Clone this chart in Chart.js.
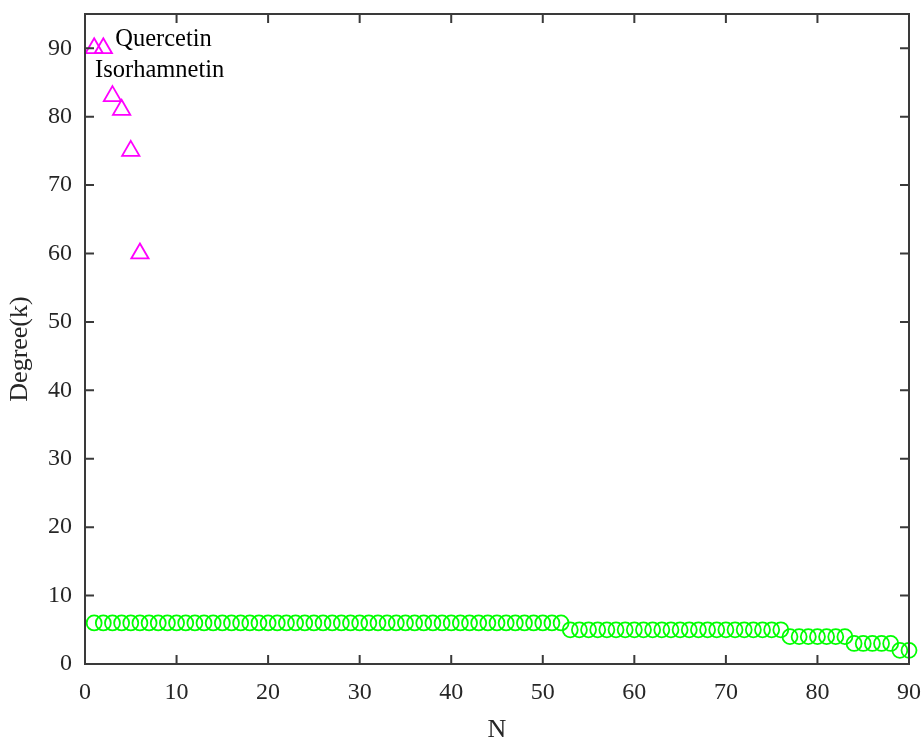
<!DOCTYPE html>
<html lang="en">
<head>
    <meta charset="UTF-8">
    <title>Degree distribution</title>
    <style>
        html, body { margin: 0; padding: 0; background: #ffffff; }
        #chart { display: block; }
    </style>
    <script src="https://cdn.jsdelivr.net/npm/chart.js"></script>
</head>
<body>
    <canvas id="chart" width="921" height="740"></canvas>

    <script>
        // hub compounds (magenta triangles)
        var hubN = [1, 2, 3, 4, 5, 6];
        var hubDegree = [90, 90, 83, 81, 75, 60];

        // remaining nodes (green circles), ranked by degree
        var nodeN = [
            1, 2, 3, 4, 5, 6, 7, 8, 9, 10,
            11, 12, 13, 14, 15, 16, 17, 18, 19, 20,
            21, 22, 23, 24, 25, 26, 27, 28, 29, 30,
            31, 32, 33, 34, 35, 36, 37, 38, 39, 40,
            41, 42, 43, 44, 45, 46, 47, 48, 49, 50,
            51, 52, 53, 54, 55, 56, 57, 58, 59, 60,
            61, 62, 63, 64, 65, 66, 67, 68, 69, 70,
            71, 72, 73, 74, 75, 76, 77, 78, 79, 80,
            81, 82, 83, 84, 85, 86, 87, 88, 89, 90
        ];
        var nodeDegree = [
            6, 6, 6, 6, 6, 6, 6, 6, 6, 6,
            6, 6, 6, 6, 6, 6, 6, 6, 6, 6,
            6, 6, 6, 6, 6, 6, 6, 6, 6, 6,
            6, 6, 6, 6, 6, 6, 6, 6, 6, 6,
            6, 6, 6, 6, 6, 6, 6, 6, 6, 6,
            6, 6, 5, 5, 5, 5, 5, 5, 5, 5,
            5, 5, 5, 5, 5, 5, 5, 5, 5, 5,
            5, 5, 5, 5, 5, 5, 4, 4, 4, 4,
            4, 4, 4, 3, 3, 3, 3, 3, 2, 2
        ];

        var xTicks = [0, 10, 20, 30, 40, 50, 60, 70, 80, 90];
        var yTicks = [0, 10, 20, 30, 40, 50, 60, 70, 80, 90];

        // text labels next to the top hubs
        var noteText = ['Quercetin', 'Isorhamnetin'];
        var noteN = [3.3, 1.1];
        var noteDegree = [91.2, 86.7];

        var xTitle = 'N';
        var yTitle = 'Degree(k)';

        var axisColor = '#262626';
        var serif = "'Liberation Serif', 'Times New Roman', serif";

        function points(xs, ys) {
            var out = [];
            for (var i = 0; i < xs.length; i++) {
                out.push({ x: xs[i], y: ys[i] });
            }
            return out;
        }

        // box around the plot with inward ticks on all four sides
        var matlabBox = {
            id: 'matlabBox',
            afterDraw: function (chart) {
                var ctx = chart.ctx;
                var a = chart.chartArea;
                var xs = chart.scales.x;
                var ys = chart.scales.y;
                var len = 9;
                ctx.save();
                ctx.strokeStyle = '#3a3a3a';
                ctx.lineWidth = 2;
                ctx.beginPath();
                xs.ticks.forEach(function (t) {
                    var px = xs.getPixelForValue(t.value);
                    ctx.moveTo(px, a.bottom);
                    ctx.lineTo(px, a.bottom - len);
                    ctx.moveTo(px, a.top);
                    ctx.lineTo(px, a.top + len);
                });
                ys.ticks.forEach(function (t) {
                    var py = ys.getPixelForValue(t.value);
                    ctx.moveTo(a.left, py);
                    ctx.lineTo(a.left + len, py);
                    ctx.moveTo(a.right, py);
                    ctx.lineTo(a.right - len, py);
                });
                ctx.stroke();
                ctx.strokeRect(a.left, a.top, a.right - a.left, a.bottom - a.top);

                // axis titles
                ctx.fillStyle = axisColor;
                ctx.font = '26px ' + serif;
                ctx.textAlign = 'center';
                ctx.textBaseline = 'middle';
                ctx.fillText(xTitle, (a.left + a.right) / 2, chart.height - 10);
                ctx.translate(20, (a.top + a.bottom) / 2 + 10);
                ctx.rotate(-Math.PI / 2);
                ctx.fillText(yTitle, 0, 0);
                ctx.restore();
            }
        };

        var noteLabels = {
            id: 'noteLabels',
            afterDatasetsDraw: function (chart) {
                var ctx = chart.ctx;
                ctx.save();
                ctx.fillStyle = '#000000';
                ctx.font = '24.5px ' + serif;
                ctx.textAlign = 'left';
                ctx.textBaseline = 'middle';
                for (var i = 0; i < noteText.length; i++) {
                    ctx.fillText(noteText[i],
                        chart.scales.x.getPixelForValue(noteN[i]),
                        chart.scales.y.getPixelForValue(noteDegree[i]));
                }
                ctx.restore();
            }
        };

        var ctx = document.getElementById('chart').getContext('2d');
        var chart = new Chart(ctx, {
            type: 'scatter',
            data: {
                datasets: [
                    {
                        label: 'Hubs',
                        data: points(hubN, hubDegree),
                        pointStyle: 'triangle',
                        pointRadius: 10,
                        borderColor: '#ff00ff',
                        backgroundColor: 'rgba(0,0,0,0)',
                        borderWidth: 1.8,
                        clip: false
                    },
                    {
                        label: 'Nodes',
                        data: points(nodeN, nodeDegree),
                        pointStyle: 'circle',
                        pointRadius: 7.5,
                        borderColor: '#00ff00',
                        backgroundColor: 'rgba(0,0,0,0)',
                        borderWidth: 1.8,
                        clip: false
                    }
                ]
            },
            options: {
                responsive: false,
                animation: false,
                events: [],
                layout: { padding: { top: 14, right: 12, left: 0, bottom: 0 } },
                plugins: {
                    legend: { display: false },
                    tooltip: { enabled: false }
                },
                scales: {
                    x: {
                        type: 'linear',
                        min: 0,
                        max: 90,
                        afterBuildTicks: function (scale) {
                            scale.ticks = xTicks.map(function (v) { return { value: v }; });
                        },
                        afterFit: function (scale) {
                            scale.height = 76;
                            scale.paddingLeft = 0;
                            scale.paddingRight = 0;
                        },
                        grid: { display: false, drawTicks: false },
                        border: { display: false },
                        ticks: {
                            color: axisColor,
                            font: { family: serif, size: 24 },
                            padding: 14,
                            maxRotation: 0
                        }
                    },
                    y: {
                        type: 'linear',
                        min: 0,
                        max: 95,
                        afterBuildTicks: function (scale) {
                            scale.ticks = yTicks.map(function (v) { return { value: v }; });
                        },
                        afterFit: function (scale) {
                            scale.width = 85;
                            scale.paddingTop = 0;
                            scale.paddingBottom = 0;
                        },
                        grid: { display: false, drawTicks: false },
                        border: { display: false },
                        ticks: {
                            color: axisColor,
                            font: { family: serif, size: 24 },
                            padding: 13
                        }
                    }
                }
            },
            plugins: [matlabBox, noteLabels]
        });
    </script>
</body>
</html>
